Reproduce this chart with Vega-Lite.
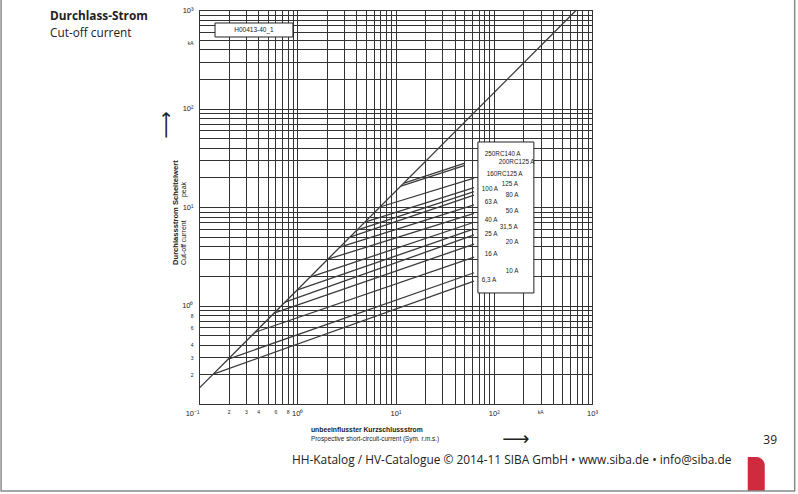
{
  "$schema": "https://vega.github.io/schema/vega-lite/v6.json",
  "width": 393,
  "height": 394,
  "autosize": {"type": "none"},
  "padding": {"left": 199, "top": 10, "right": 206, "bottom": 90},
  "background": "white",
  "config": {
    "view": {"stroke": "#222222", "strokeWidth": 1},
    "text": {"font": "Liberation Sans", "color": "#222222"}
  },
  "datasets": {
    "curves": [
      {"fuse": "unbegrenzt", "x": 0.1, "y": 0.144},
      {"fuse": "unbegrenzt", "x": 694, "y": 1000},
      {"fuse": "6,3 A", "x": 0.14, "y": 0.201},
      {"fuse": "6,3 A", "x": 63, "y": 1.77},
      {"fuse": "10 A", "x": 0.199, "y": 0.286},
      {"fuse": "10 A", "x": 63, "y": 2.15},
      {"fuse": "16 A", "x": 0.372, "y": 0.535},
      {"fuse": "16 A", "x": 63, "y": 3.1},
      {"fuse": "20 A", "x": 0.58, "y": 0.835},
      {"fuse": "20 A", "x": 63, "y": 4.2},
      {"fuse": "25 A", "x": 0.75, "y": 1.08},
      {"fuse": "25 A", "x": 63, "y": 5.2},
      {"fuse": "31,5 A", "x": 0.993, "y": 1.43},
      {"fuse": "31,5 A", "x": 63, "y": 6.0},
      {"fuse": "40 A", "x": 1.35, "y": 1.94},
      {"fuse": "40 A", "x": 63, "y": 7.0},
      {"fuse": "50 A", "x": 2.05, "y": 2.95},
      {"fuse": "50 A", "x": 63, "y": 8.6},
      {"fuse": "63 A", "x": 2.72, "y": 3.91},
      {"fuse": "63 A", "x": 63, "y": 10.5},
      {"fuse": "80 A", "x": 3.44, "y": 4.95},
      {"fuse": "80 A", "x": 63, "y": 13.2},
      {"fuse": "100 A", "x": 4.05, "y": 5.83},
      {"fuse": "100 A", "x": 63, "y": 14.3},
      {"fuse": "125 A", "x": 4.88, "y": 7.03},
      {"fuse": "125 A", "x": 63, "y": 15.7},
      {"fuse": "160 A", "x": 6.94, "y": 10.0},
      {"fuse": "160 A", "x": 63, "y": 19.6},
      {"fuse": "200 A", "x": 11.35, "y": 16.3},
      {"fuse": "200 A", "x": 50, "y": 26.3},
      {"fuse": "250 A", "x": 12.2, "y": 17.5},
      {"fuse": "250 A", "x": 50, "y": 27.8}
    ],
    "labels": [
      {"label": "250RC140 A", "lx": 81.2, "ly": 34.5},
      {"label": "200RC125 A", "lx": 112.7, "ly": 28.6},
      {"label": "160RC125 A", "lx": 85.1, "ly": 21.6},
      {"label": "125 A", "lx": 120.9, "ly": 17.1},
      {"label": "100 A", "lx": 75.7, "ly": 15.2},
      {"label": "80 A", "lx": 132.7, "ly": 13.2},
      {"label": "63 A", "lx": 81.2, "ly": 11.2},
      {"label": "50 A", "lx": 132.7, "ly": 9.1},
      {"label": "40 A", "lx": 81.2, "ly": 7.38},
      {"label": "31,5 A", "lx": 115.3, "ly": 6.27},
      {"label": "25 A", "lx": 81.2, "ly": 5.32},
      {"label": "20 A", "lx": 132.7, "ly": 4.41},
      {"label": "16 A", "lx": 81.2, "ly": 3.33},
      {"label": "10 A", "lx": 132.7, "ly": 2.24},
      {"label": "6,3 A", "lx": 75.7, "ly": 1.82}
    ]
  },
  "layer": [
    {
      "data": {"name": "curves"},
      "mark": {"type": "line", "color": "#3a3a3a", "strokeWidth": 1.3},
      "encoding": {
        "x": {
          "field": "x", "type": "quantitative",
          "scale": {"type": "log", "domain": [0.1, 1000]},
          "axis": {
            "title": null,
            "values": [0.1,0.2,0.3,0.4,0.5,0.6,0.7,0.8,0.9,1,2,3,4,5,6,7,8,9,10,20,30,40,50,60,70,80,90,100,200,300,400,500,600,700,800,900,1000,296],
            "labelExpr": "datum.value==0.1?'10⁻¹':datum.value==1?'10⁰':datum.value==10?'10¹':datum.value==100?'10²':datum.value==1000?'10³':datum.value==296?'kA':(datum.value==0.2||datum.value==0.3||datum.value==0.4||datum.value==0.6||datum.value==0.8)?''+round(datum.value*10):''",
            "labelFlush": false,
            "labelOverlap": false,
            "labelBound": false,
            "ticks": false,
            "domain": false,
            "grid": true,
            "gridColor": "#333333",
            "gridWidth": 1,
            "gridOpacity": {"condition": {"test": "datum.value==296", "value": 0}, "value": 1},
            "labelFont": "Liberation Sans",
            "labelColor": "#222222",
            "labelFontSize": {"condition": {"test": "datum.value==0.1||datum.value==1||datum.value==10||datum.value==100||datum.value==1000", "value": 7.5}, "value": 5},
            "labelAlign": {"condition": {"test": "datum.value==0.1", "value": "right"}, "value": "center"},
            "labelPadding": 5
          }
        },
        "y": {
          "field": "y", "type": "quantitative",
          "scale": {"type": "log", "domain": [0.1, 1000]},
          "axis": {
            "title": null,
            "values": [0.1,0.2,0.3,0.4,0.5,0.6,0.7,0.8,0.9,1,2,3,4,5,6,7,8,9,10,20,30,40,50,60,70,80,90,100,200,300,400,500,600,700,800,900,1000,473],
            "labelExpr": "datum.value==1?'10⁰':datum.value==10?'10¹':datum.value==100?'10²':datum.value==1000?'10³':datum.value==473?'kA':(datum.value==0.2||datum.value==0.3||datum.value==0.4||datum.value==0.6||datum.value==0.8)?''+round(datum.value*10):''",
            "labelOverlap": false,
            "labelBound": false,
            "labelFlush": false,
            "ticks": false,
            "domain": false,
            "grid": true,
            "gridColor": "#333333",
            "gridWidth": 1,
            "gridOpacity": {"condition": {"test": "datum.value==473", "value": 0}, "value": 1},
            "labelFont": "Liberation Sans",
            "labelColor": "#222222",
            "labelFontSize": {"condition": {"test": "datum.value==1||datum.value==10||datum.value==100||datum.value==1000", "value": 7.5}, "value": 5},
            "labelPadding": 6
          }
        },
        "detail": {"field": "fuse", "type": "nominal"}
      }
    },
    {
      "data": {"values": [{}]},
      "mark": {"type": "rect", "fill": "white", "stroke": "#222222", "strokeWidth": 1},
      "encoding": {"x": {"datum": 69}, "x2": {"datum": 256}, "y": {"datum": 1.34}, "y2": {"datum": 45.7}}
    },
    {
      "data": {"values": [{}]},
      "mark": {"type": "rect", "fill": "white", "stroke": "#222222", "strokeWidth": 1},
      "encoding": {"x": {"datum": 0.1456}, "x2": {"datum": 0.904}, "y": {"datum": 532}, "y2": {"datum": 738}}
    },
    {
      "data": {"values": [{}]},
      "mark": {"type": "text", "text": "H00413-40_1", "fontSize": 6.5, "align": "center", "baseline": "middle"},
      "encoding": {"x": {"datum": 0.3626}, "y": {"datum": 627}}
    },
    {
      "data": {"name": "labels"},
      "mark": {"type": "text", "fontSize": 6.3, "align": "left", "baseline": "middle"},
      "encoding": {
        "x": {"field": "lx", "type": "quantitative"},
        "y": {"field": "ly", "type": "quantitative"},
        "text": {"field": "label"}
      }
    },
    {
      "data": {"values": [{}]},
      "mark": {"type": "text", "text": "Durchlassstrom   Scheitelwert", "fontSize": 7.6, "fontWeight": "bold", "angle": 270, "align": "left", "baseline": "middle"},
      "encoding": {"x": {"datum": 0.0583}, "y": {"datum": 2.58}}
    },
    {
      "data": {"values": [{}]},
      "mark": {"type": "text", "text": "Cut-off current", "fontSize": 7, "angle": 270, "align": "left", "baseline": "middle"},
      "encoding": {"x": {"datum": 0.0704}, "y": {"datum": 2.58}}
    },
    {
      "data": {"values": [{}]},
      "mark": {"type": "text", "text": "peak", "fontSize": 7, "angle": 270, "align": "left", "baseline": "middle"},
      "encoding": {"x": {"datum": 0.0704}, "y": {"datum": 12.6}}
    },
    {
      "data": {"values": [{}]},
      "mark": {"type": "text", "text": "⟶", "font": "DejaVu Sans", "fontSize": 19, "fontWeight": "normal", "angle": 270, "align": "center", "baseline": "middle"},
      "encoding": {"x": {"datum": 0.0462}, "y": {"datum": 68}}
    },
    {
      "data": {"values": [{}]},
      "mark": {"type": "text", "text": "unbeeinflusster Kurzschlussstrom", "fontSize": 6.8, "fontWeight": "bold", "align": "left", "baseline": "middle"},
      "encoding": {"x": {"datum": 1.379}, "y": {"datum": 0.0545}}
    },
    {
      "data": {"values": [{}]},
      "mark": {"type": "text", "text": "Prospective short-circuit-current (Sym. r.m.s.)", "fontSize": 6.4, "align": "left", "baseline": "middle"},
      "encoding": {"x": {"datum": 1.379}, "y": {"datum": 0.0441}}
    },
    {
      "data": {"values": [{}]},
      "mark": {"type": "text", "text": "⟶", "font": "DejaVu Sans", "fontSize": 19, "align": "center", "baseline": "middle"},
      "encoding": {"x": {"datum": 168}, "y": {"datum": 0.0441}}
    },
    {
      "data": {"values": [{}]},
      "mark": {"type": "text", "text": "Durchlass-Strom", "font": "Open Sans", "fontWeight": "bold", "fontSize": 11.8, "align": "left", "baseline": "middle"},
      "encoding": {"x": {"datum": 0.00305}, "y": {"datum": 869}}
    },
    {
      "data": {"values": [{}]},
      "mark": {"type": "text", "text": "Cut-off current", "font": "Open Sans", "fontSize": 11.8, "align": "left", "baseline": "middle"},
      "encoding": {"x": {"datum": 0.00305}, "y": {"datum": 584}}
    },
    {
      "data": {"values": [{}]},
      "mark": {"type": "text", "text": "HH-Katalog / HV-Catalogue © 2014-11 SIBA GmbH • www.siba.de • info@siba.de", "font": "Open Sans", "fontSize": 11.9, "align": "left", "baseline": "middle"},
      "encoding": {"x": {"datum": 0.8833}, "y": {"datum": 0.02701}}
    },
    {
      "data": {"values": [{}]},
      "mark": {"type": "text", "text": "39", "font": "Open Sans", "fontSize": 12, "align": "right", "baseline": "middle"},
      "encoding": {"x": {"datum": 76400}, "y": {"datum": 0.0431}}
    },
    {
      "data": {"values": [{}]},
      "mark": {"type": "rect", "fill": "#cf2a3e", "cornerRadiusTopRight": 17},
      "encoding": {"x": {"datum": 38460}, "x2": {"datum": 57300}, "y": {"datum": 0.02897}, "y2": {"datum": 0.01309}}
    },
    {
      "data": {"values": [{}]},
      "mark": {"type": "rect", "fillOpacity": 0, "stroke": "#8a8a8a", "strokeWidth": 1.5},
      "encoding": {"x": {"datum": 0.000968}, "x2": {"datum": 115600}, "y": {"datum": 1596}, "y2": {"datum": 0.01309}}
    }
  ]
}
